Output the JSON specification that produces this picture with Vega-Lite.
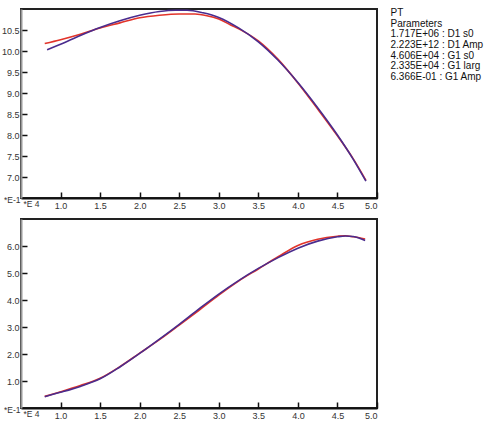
{
  "$schema": "https://vega.github.io/schema/vega-lite/v6.json",
  "background": "white",
  "padding": {"left": 0, "top": 6, "right": 0, "bottom": 0},
  "config": {
    "view": {"stroke": "#222", "strokeWidth": 2},
    "axis": {
      "labelFont": "Liberation Sans", "labelFontSize": 9, "labelColor": "#333",
      "titleFont": "Liberation Sans", "titleFontSize": 8.5, "titleColor": "#333", "titleFontWeight": "normal",
      "tickColor": "#111", "tickWidth": 1.5, "tickSize": -6, "grid": false,
      "domainColor": "#111", "domainWidth": 2
    },
    "text": {"font": "Liberation Sans"}
  },
  "datasets": {
    "top": [
      {"s": "data", "x": 0.8, "y": 10.18}, {"s": "data", "x": 1.0, "y": 10.27}, {"s": "data", "x": 1.25, "y": 10.4},
      {"s": "data", "x": 1.5, "y": 10.55}, {"s": "data", "x": 1.75, "y": 10.67}, {"s": "data", "x": 2.0, "y": 10.79},
      {"s": "data", "x": 2.25, "y": 10.85}, {"s": "data", "x": 2.5, "y": 10.88}, {"s": "data", "x": 2.7, "y": 10.88},
      {"s": "data", "x": 2.85, "y": 10.84}, {"s": "data", "x": 3.0, "y": 10.76}, {"s": "data", "x": 3.15, "y": 10.62},
      {"s": "data", "x": 3.3, "y": 10.48}, {"s": "data", "x": 3.5, "y": 10.24}, {"s": "data", "x": 3.75, "y": 9.8},
      {"s": "data", "x": 4.0, "y": 9.24}, {"s": "data", "x": 4.25, "y": 8.62}, {"s": "data", "x": 4.5, "y": 7.98},
      {"s": "data", "x": 4.7, "y": 7.43}, {"s": "data", "x": 4.86, "y": 6.92},
      {"s": "fit", "x": 0.83, "y": 10.03}, {"s": "fit", "x": 1.0, "y": 10.16}, {"s": "fit", "x": 1.25, "y": 10.37},
      {"s": "fit", "x": 1.5, "y": 10.56}, {"s": "fit", "x": 1.75, "y": 10.72}, {"s": "fit", "x": 2.0, "y": 10.85},
      {"s": "fit", "x": 2.25, "y": 10.94}, {"s": "fit", "x": 2.45, "y": 10.97}, {"s": "fit", "x": 2.6, "y": 10.97},
      {"s": "fit", "x": 2.8, "y": 10.91}, {"s": "fit", "x": 3.0, "y": 10.8}, {"s": "fit", "x": 3.25, "y": 10.55},
      {"s": "fit", "x": 3.5, "y": 10.22}, {"s": "fit", "x": 3.75, "y": 9.78}, {"s": "fit", "x": 4.0, "y": 9.25},
      {"s": "fit", "x": 4.25, "y": 8.65}, {"s": "fit", "x": 4.5, "y": 8.0}, {"s": "fit", "x": 4.7, "y": 7.42},
      {"s": "fit", "x": 4.86, "y": 6.9}
    ],
    "bottom": [
      {"s": "data", "x": 0.8, "y": 0.43}, {"s": "data", "x": 1.0, "y": 0.6}, {"s": "data", "x": 1.25, "y": 0.83},
      {"s": "data", "x": 1.5, "y": 1.1}, {"s": "data", "x": 1.75, "y": 1.53}, {"s": "data", "x": 2.0, "y": 2.03},
      {"s": "data", "x": 2.25, "y": 2.53}, {"s": "data", "x": 2.5, "y": 3.07}, {"s": "data", "x": 2.75, "y": 3.62},
      {"s": "data", "x": 3.0, "y": 4.18}, {"s": "data", "x": 3.25, "y": 4.7}, {"s": "data", "x": 3.5, "y": 5.15},
      {"s": "data", "x": 3.75, "y": 5.6}, {"s": "data", "x": 4.0, "y": 6.02}, {"s": "data", "x": 4.25, "y": 6.25},
      {"s": "data", "x": 4.5, "y": 6.36}, {"s": "data", "x": 4.6, "y": 6.38}, {"s": "data", "x": 4.7, "y": 6.34},
      {"s": "data", "x": 4.85, "y": 6.26},
      {"s": "fit", "x": 0.8, "y": 0.42}, {"s": "fit", "x": 1.0, "y": 0.58}, {"s": "fit", "x": 1.25, "y": 0.8},
      {"s": "fit", "x": 1.5, "y": 1.08}, {"s": "fit", "x": 1.75, "y": 1.52}, {"s": "fit", "x": 2.0, "y": 2.02},
      {"s": "fit", "x": 2.25, "y": 2.55}, {"s": "fit", "x": 2.5, "y": 3.1}, {"s": "fit", "x": 2.75, "y": 3.67},
      {"s": "fit", "x": 3.0, "y": 4.22}, {"s": "fit", "x": 3.25, "y": 4.72}, {"s": "fit", "x": 3.5, "y": 5.17},
      {"s": "fit", "x": 3.75, "y": 5.57}, {"s": "fit", "x": 4.0, "y": 5.92}, {"s": "fit", "x": 4.25, "y": 6.18},
      {"s": "fit", "x": 4.5, "y": 6.34}, {"s": "fit", "x": 4.6, "y": 6.37}, {"s": "fit", "x": 4.7, "y": 6.35},
      {"s": "fit", "x": 4.85, "y": 6.2}
    ],
    "params": [
      {"i": 0, "t": "PT"},
      {"i": 1, "t": "Parameters"},
      {"i": 2, "t": "\u00a01.717E+06 : D1 s0"},
      {"i": 3, "t": "\u00a02.223E+12 : D1 Amp"},
      {"i": 4, "t": "\u00a04.606E+04 : G1 s0"},
      {"i": 5, "t": "\u00a02.335E+04 : G1 larg"},
      {"i": 6, "t": "\u00a06.366E-01 : G1 Amp"}
    ]
  },
  "hconcat": [
    {
      "vconcat": [
        {
          "width": 356, "height": 189,
          "data": {"name": "top"},
          "mark": {"type": "line", "strokeWidth": 1.6, "interpolate": "monotone"},
          "encoding": {
            "x": {"field": "x", "type": "quantitative",
                  "scale": {"domain": [0.5, 5.0], "nice": false, "zero": false},
                  "axis": {"values": [1.0, 1.5, 2.0, 2.5, 3.0, 3.5, 4.0, 4.5, 5.0], "format": ".1f",
                           "title": "*E 4", "titleX": 2, "titleY": 1, "titleAlign": "left", "titleBaseline": "top", "labelPadding": 9}},
            "y": {"field": "y", "type": "quantitative",
                  "scale": {"domain": [6.5, 11.0], "nice": false, "zero": false},
                  "axis": {"values": [7.0, 7.5, 8.0, 8.5, 9.0, 9.5, 10.0, 10.5], "format": ".1f", "domainColor": "#999",
                           "title": "*E-1", "titleAngle": 0, "titleX": -1, "titleY": 190, "titleAlign": "right", "titleBaseline": "middle", "labelPadding": 8}},
            "color": {"field": "s", "type": "nominal", "legend": null,
                      "scale": {"domain": ["data", "fit"], "range": ["#e2342a", "#4a2c8e"]}}
          }
        },
        {
          "width": 356, "height": 189,
          "data": {"name": "bottom"},
          "mark": {"type": "line", "strokeWidth": 1.6, "interpolate": "monotone"},
          "encoding": {
            "x": {"field": "x", "type": "quantitative",
                  "scale": {"domain": [0.5, 5.0], "nice": false, "zero": false},
                  "axis": {"values": [1.0, 1.5, 2.0, 2.5, 3.0, 3.5, 4.0, 4.5, 5.0], "format": ".1f",
                           "title": "*E 4", "titleX": 2, "titleY": 1, "titleAlign": "left", "titleBaseline": "top", "labelPadding": 9}},
            "y": {"field": "y", "type": "quantitative",
                  "scale": {"domain": [0, 7], "nice": false, "zero": false},
                  "axis": {"values": [1, 2, 3, 4, 5, 6], "format": ".1f", "domainColor": "#999",
                           "title": "*E-1", "titleAngle": 0, "titleX": -1, "titleY": 190, "titleAlign": "right", "titleBaseline": "middle", "labelPadding": 8}},
            "color": {"field": "s", "type": "nominal", "legend": null,
                      "scale": {"domain": ["data", "fit"], "range": ["#e2342a", "#4a2c8e"]}}
          }
        }
      ],
      "spacing": 7
    },
    {
      "width": 1,
      "height": {"step": 10.7},
      "view": {"stroke": null},
      "data": {"name": "params"},
      "mark": {"type": "text", "align": "left", "baseline": "middle", "fontSize": 10, "color": "#111"},
      "encoding": {
        "y": {"field": "i", "type": "ordinal", "axis": null, "scale": {"padding": 0.37}},
        "text": {"field": "t"}
      }
    }
  ],
  "spacing": 11
}
